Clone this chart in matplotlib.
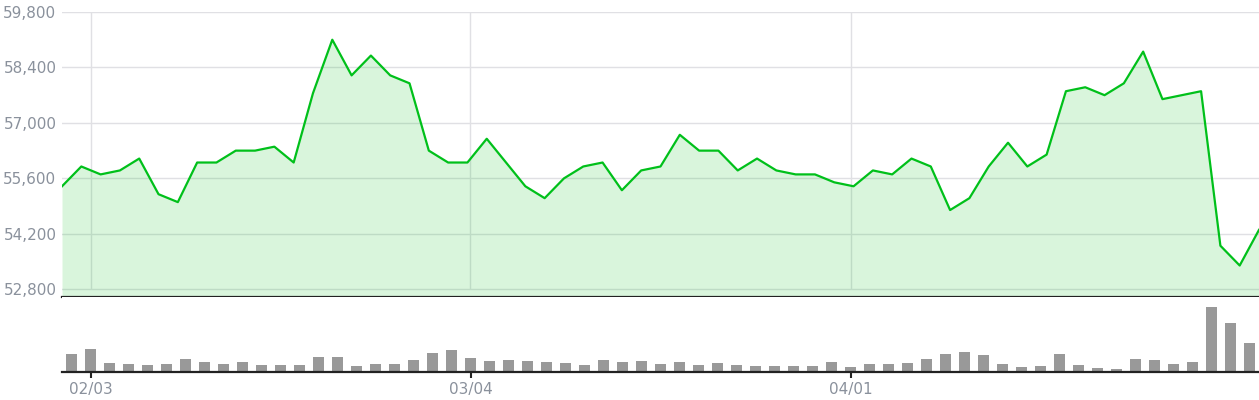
import numpy as np
import matplotlib
matplotlib.use('Agg')
import matplotlib.pyplot as plt

# closing prices (63 sessions)
price = [55400, 55900, 55700, 55800, 56100, 55200, 55000, 56000, 56000, 56300,
         56300, 56400, 56000, 57750, 59100, 58200, 58700, 58200, 58000, 56300,
         56000, 56000, 56600, 56000, 55400, 55100, 55600, 55900, 56000, 55300,
         55800, 55900, 56700, 56300, 56300, 55800, 56100, 55800, 55700, 55700,
         55500, 55400, 55800, 55700, 56100, 55900, 54800, 55100, 55900, 56500,
         55900, 56200, 57800, 57900, 57700, 58000, 58800, 57600, 57700, 57800,
         53900, 53400, 54300]

# volume (thousands)
volume = [18, 23, 9, 8, 7, 8, 13, 10, 8, 10,
          7, 7, 7, 15, 15, 6, 8, 8, 12, 19,
          22, 14, 11, 12, 11, 10, 9, 7, 12, 10,
          11, 8, 10, 7, 9, 7, 6, 6, 6, 6,
          10, 5, 8, 8, 9, 13, 18, 20, 17, 8,
          5, 6, 18, 7, 4, 3, 13, 12, 8, 10,
          65, 49, 29]

yticks = [52800, 54200, 55600, 57000, 58400, 59800]
xtick_pos = [1, 21, 41]
xtick_labels = ['02/03', '03/04', '04/01']

green = '#00c01a'
grid_c = '#e0e0e4'
label_c = '#8a919c'
plt.rcParams['font.family'] = ['DejaVu Sans']

W, H = 1259, 400
fig = plt.figure(figsize=(W / 100, H / 100), dpi=100)

# price panel
ax = fig.add_axes([62 / W, (H - 297) / H, 1197 / W, 285 / H])
n = len(price)
x = np.arange(n)
ax.set_xlim(0, n - 1)
ax.set_ylim(52605, 59800)
for yv in yticks:
    ax.axhline(yv, color=grid_c, lw=1, zorder=1)
for p in xtick_pos:
    ax.vlines((p + 0.5) * (n - 1) / n, yticks[0], yticks[-1], color=grid_c, lw=1, zorder=1)
ax.fill_between(x, price, 52605, color=green, alpha=0.15, lw=0, zorder=2)
ax.plot(x, price, color=green, lw=1.6, zorder=3)
ax.set_yticks(yticks)
ax.set_yticklabels(['{:,}'.format(v) for v in yticks])
ax.tick_params(axis='y', length=0, pad=4, labelsize=11, labelcolor=label_c)
ax.set_xticks([])
for s in ['top', 'left', 'right']:
    ax.spines[s].set_visible(False)
ax.spines['bottom'].set_color('#222222')
ax.spines['bottom'].set_linewidth(1.6)
ax.spines['bottom'].set_zorder(5)

# volume panel
axv = fig.add_axes([62 / W, (H - 372) / H, 1197 / W, 75 / H])
axv.bar(np.arange(n), volume, width=0.54, color='#999999')
axv.set_xlim(-0.5, n - 0.5)
axv.set_ylim(0, 75)
axv.set_yticks([])
axv.set_xticks(xtick_pos)
axv.set_xticklabels(xtick_labels)
axv.tick_params(axis='x', length=4, width=1.5, color='#222222', pad=3,
                labelsize=11, labelcolor=label_c)
for s in ['top', 'left', 'right']:
    axv.spines[s].set_visible(False)
axv.spines['bottom'].set_color('#222222')
axv.spines['bottom'].set_linewidth(1.6)

fig.savefig('out.png', dpi=100)
